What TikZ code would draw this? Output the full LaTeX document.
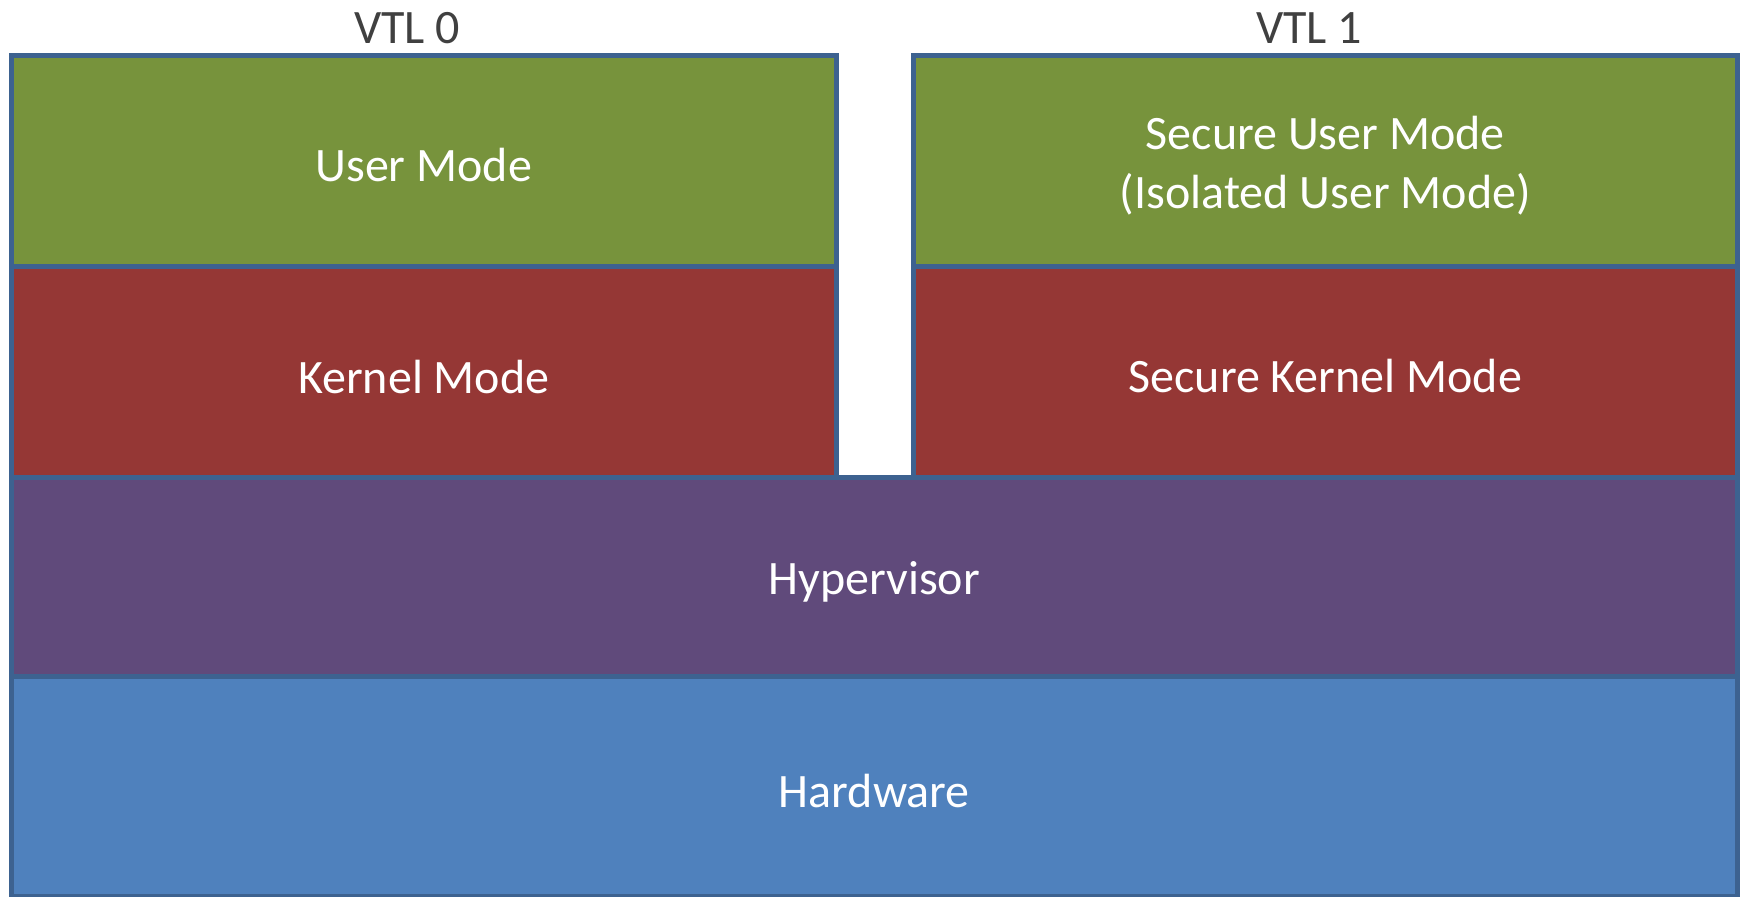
\documentclass[tikz,border=0pt]{standalone}
\usepackage{fontspec}
\setmainfont{Carlito}
\definecolor{usergreen}{HTML}{77933C}
\definecolor{kernelred}{HTML}{953735}
\definecolor{hyperpurple}{HTML}{604A7B}
\definecolor{hwblue}{HTML}{4F81BD}
\definecolor{edgeblue}{HTML}{3D6290}
\definecolor{labelgray}{HTML}{404040}
\begin{document}
\begin{tikzpicture}[x=1pt,y=-1pt,
  layer/.style={draw=edgeblue, line width=5pt, inner sep=0pt, outer sep=0pt},
  lbl/.style={text=white, font=\fontsize{48}{59}\selectfont, align=center, inner sep=0pt},
  vtl/.style={text=labelgray, font=\fontsize{48}{59}\selectfont, inner sep=0pt}]
\useasboundingbox (0,0) rectangle (1741,897);
\node[layer, fill=usergreen, minimum width=825.5pt, minimum height=211pt] (um) at (423.75,160.5) {};
\node[layer, fill=kernelred, minimum width=825.5pt, minimum height=211pt] (km) at (423.75,371.5) {};
\node[layer, fill=usergreen, minimum width=824.5pt, minimum height=211pt] (sum) at (1325.25,160.5) {};
\node[layer, fill=kernelred, minimum width=824.5pt, minimum height=211pt] (skm) at (1325.25,371.5) {};
\node[layer, fill=hyperpurple, minimum width=1726.5pt, minimum height=199pt] (hv) at (874.25,576.5) {};
\node[layer, fill=hwblue, minimum width=1726.5pt, minimum height=220pt] (hw) at (874.25,786) {};
\node[lbl] (umt) at ([yshift=-5pt]um.center) {User Mode};
\node[lbl] (kmt) at ([yshift=-5pt]km.center) {Kernel Mode};
\node[lbl] (sumt) at ([yshift=-5pt]sum.center) {Secure User Mode\\(Isolated User Mode)};
\node[lbl] (skmt) at ([yshift=-5pt]skm.center) {Secure Kernel Mode};
\node[lbl] (hvt) at ([yshift=-5pt]hv.center) {Hypervisor};
\node[lbl] (hwt) at ([yshift=-5pt]hw.center) {Hardware};
\node[vtl] (v0) at (407,28) {VTL 0};
\node[vtl] (v1) at (1309,28) {VTL 1};
\end{tikzpicture}
\end{document}
